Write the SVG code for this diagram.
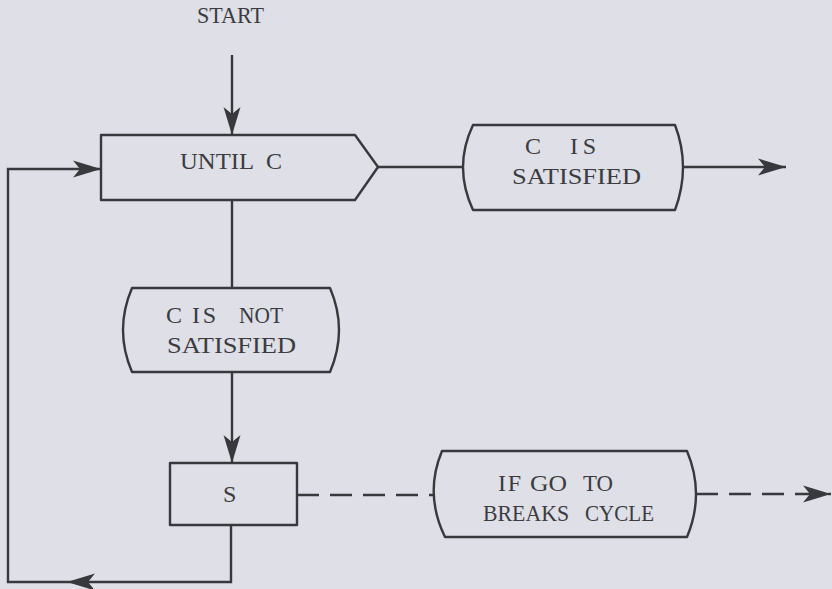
<svg xmlns="http://www.w3.org/2000/svg" width="832" height="589" viewBox="0 0 832 589">
<style>
.shape{fill:none;stroke:#38383d;stroke-width:2.4;stroke-linejoin:round}
.line{fill:none;stroke:#38383d;stroke-width:2.4}
.dash{stroke-dasharray:22 11}
.t{font-family:"Liberation Serif","Times New Roman",serif;font-size:24px;fill:#3c3c40}
</style>
<defs>
<marker id="ah" markerUnits="userSpaceOnUse" viewBox="-30 -10 32 20" markerWidth="32" markerHeight="20" refX="0" refY="0" orient="auto">
<path d="M0,0 L-28,-8.5 L-21,0 L-28,8.5 Z" fill="#38383d"/>
</marker>
</defs>
<rect width="832" height="589" fill="#dedfe7"/>
<text class="t" x="197" y="23" textLength="67" lengthAdjust="spacingAndGlyphs" style="font-size:23px">START</text>
<g id="until">
<path class="shape" d="M101,135 L355,135 L378,167 L355,200 L101,200 Z"/>
<text class="t" y="169"><tspan x="180" textLength="74" lengthAdjust="spacingAndGlyphs">UNTIL</tspan><tspan x="266">C</tspan></text>
</g>
<g id="satisfied">
<path class="shape" d="M473,125 L675,125 Q691,167 675,210 L473,210 Q453,167 473,125 Z"/>
<text class="t" y="154"><tspan x="525">C</tspan><tspan x="570" textLength="26" lengthAdjust="spacing">IS</tspan></text>
<text class="t" x="512" y="184" textLength="129" lengthAdjust="spacingAndGlyphs">SATISFIED</text>
</g>
<g id="notsatisfied">
<path class="shape" d="M132,288 L330,288 Q348,330 330,372 L132,372 Q114,330 132,288 Z"/>
<text class="t" y="323"><tspan x="166">C</tspan><tspan x="192" textLength="24" lengthAdjust="spacing">IS</tspan><tspan x="239" textLength="44" lengthAdjust="spacingAndGlyphs">NOT</tspan></text>
<text class="t" x="167" y="353" textLength="129" lengthAdjust="spacingAndGlyphs">SATISFIED</text>
</g>
<g id="s">
<rect class="shape" x="170" y="463" width="127" height="62"/>
<text class="t" x="223" y="502">S</text>
</g>
<g id="goto">
<path class="shape" d="M442,451 L687,451 Q705,494 687,537 L445,537 Q424,494 442,451 Z"/>
<text class="t" y="491"><tspan x="498" textLength="23" lengthAdjust="spacing">IF</tspan><tspan x="530" textLength="37" lengthAdjust="spacingAndGlyphs">GO</tspan><tspan x="583" textLength="30" lengthAdjust="spacingAndGlyphs">TO</tspan></text>
<text class="t" y="521"><tspan x="483" textLength="86" lengthAdjust="spacingAndGlyphs">BREAKS</tspan><tspan x="585" textLength="69" lengthAdjust="spacingAndGlyphs">CYCLE</tspan></text>
</g>
<g id="connectors">
<line class="line" x1="232" y1="55" x2="232" y2="135" marker-end="url(#ah)"/>
<line class="line" x1="232" y1="200" x2="232" y2="288"/>
<line class="line" x1="232" y1="372" x2="232" y2="463" marker-end="url(#ah)"/>
<line class="line" x1="378" y1="167" x2="463" y2="167"/>
<line class="line" x1="683" y1="167" x2="786" y2="167" marker-end="url(#ah)"/>
<line class="line dash" x1="297" y1="495" x2="433" y2="495"/>
<line class="line dash" x1="696" y1="494" x2="831" y2="494" marker-end="url(#ah)"/>
<polyline class="line" points="231,525 231,582 67,582" marker-end="url(#ah)"/>
<polyline class="line" points="67,582 8,582 8,169 101,169" marker-end="url(#ah)"/>
</g>
</svg>
